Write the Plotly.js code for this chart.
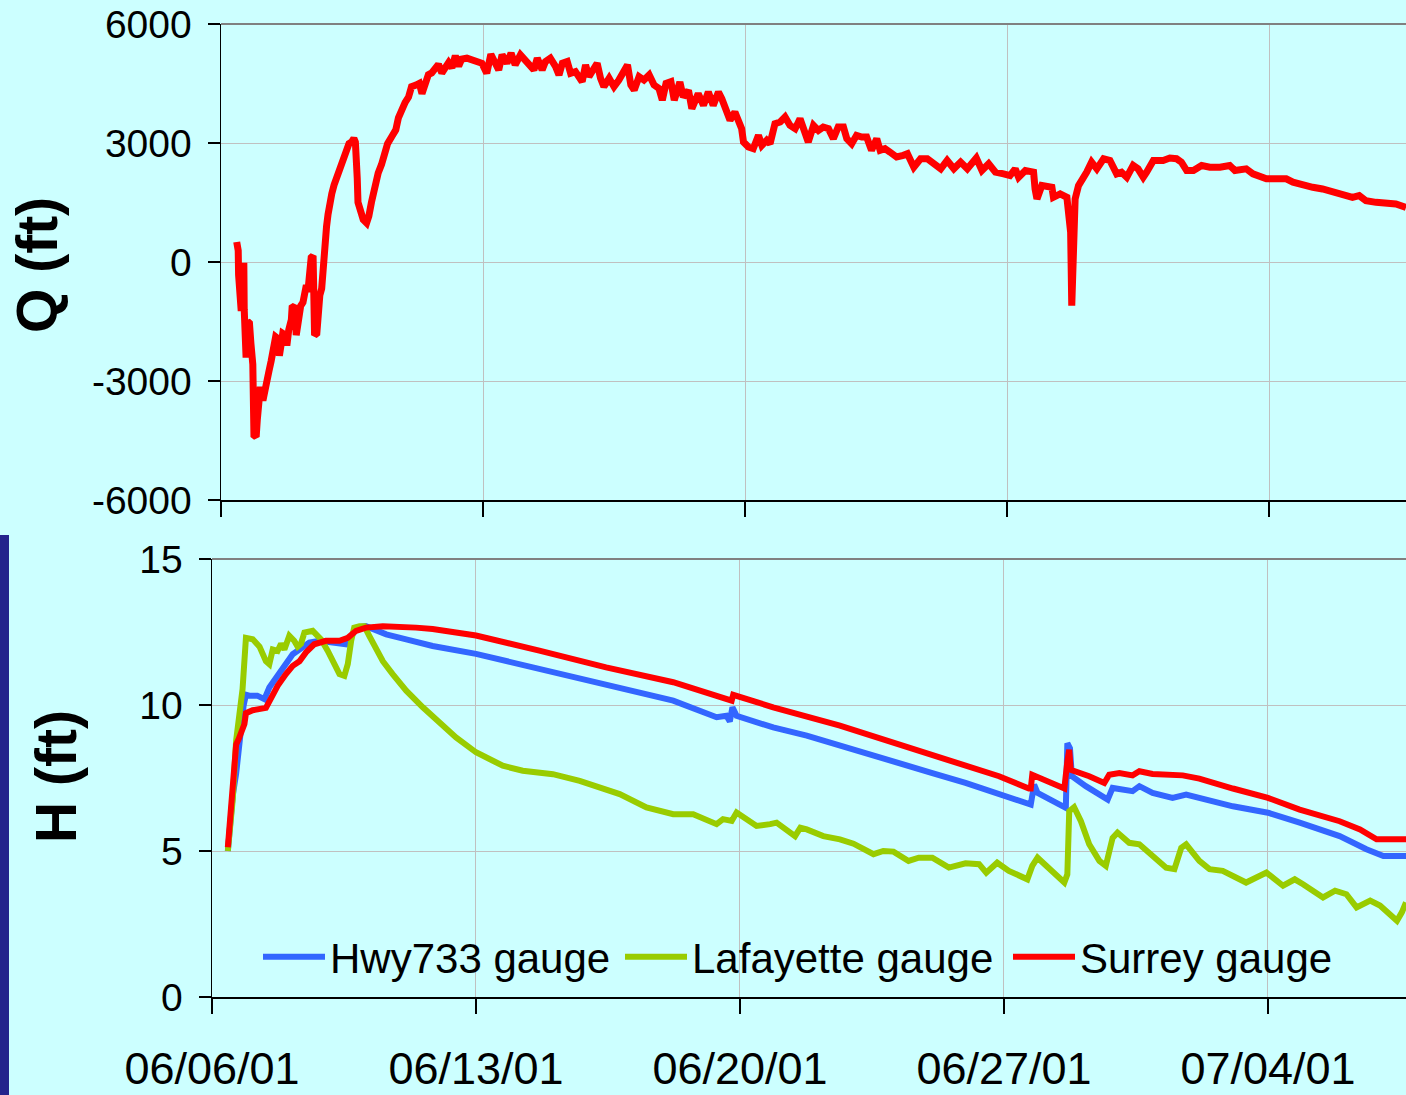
<!DOCTYPE html>
<html>
<head>
<meta charset="utf-8">
<script src="https://cdn.plot.ly/plotly-3.0.1.min.js"></script>
<style>
  html, body { margin: 0; padding: 0; background: #CCFFFF; }
  #chart { width: 1406px; height: 1095px; }
</style>
</head>
<body>
<div id="chart"></div>
<script>
// ---------- DATA (x = days since 06/06/01 00:00) ----------
const qDay = [0.42,0.46,0.47,0.49,0.51,0.54,0.56,0.59,0.61,0.62,0.63,0.67,0.71,0.76,0.80,0.85,0.88,0.94,0.97,1.01,1.05,1.12,1.16,1.21,1.28,1.34,1.40,1.46,1.52,1.56,1.61,1.65,1.72,1.76,1.81,1.88,1.90,1.97,2.01,2.06,2.13,2.19,2.23,2.28,2.32,2.37,2.41,2.46,2.48,2.50,2.56,2.59,2.64,2.69,2.73,2.77,2.82,2.86,2.90,2.96,3.02,3.10,3.19,3.26,3.35,3.42,3.49,3.55,3.59,3.62,3.64,3.66,3.71,3.80,3.89,3.95,4.02,4.11,4.20,4.29,4.38,4.45,4.56,4.67,4.74,4.83,4.92,5.01,5.09,5.21,5.30,5.37,5.45,5.54,5.63,5.72,5.81,5.90,5.99,6.08,6.17,6.26,6.35,6.43,6.57,6.70,6.84,6.97,7.10,7.21,7.33,7.42,7.51,7.64,7.75,7.86,8.00,8.13,8.27,8.36,8.45,8.58,8.67,8.80,8.94,9.03,9.12,9.25,9.34,9.47,9.65,9.74,9.83,9.96,10.05,10.14,10.23,10.37,10.50,10.63,10.72,10.86,10.95,11.04,11.17,11.30,11.44,11.57,11.70,11.79,11.89,12.02,12.11,12.26,12.35,12.49,12.58,12.75,12.89,13.02,13.15,13.29,13.38,13.51,13.60,13.73,13.82,13.91,13.96,14.09,14.22,14.36,14.45,14.58,14.67,14.80,14.94,15.07,15.20,15.34,15.47,15.60,15.69,15.83,15.96,16.09,16.23,16.36,16.49,16.63,16.72,16.85,16.98,17.12,17.25,17.38,17.52,17.61,17.74,17.87,18.05,18.23,18.34,18.51,18.69,18.87,19.05,19.23,19.40,19.58,19.76,19.94,20.18,20.33,20.51,20.69,20.91,21.08,21.22,21.31,21.49,21.71,21.75,21.80,21.93,22.06,22.20,22.24,22.42,22.60,22.64,22.70,22.73,22.78,22.82,22.91,23.04,23.13,23.26,23.40,23.58,23.75,23.93,24.06,24.20,24.37,24.50,24.64,24.73,24.91,25.17,25.35,25.53,25.66,25.80,25.98,26.20,26.42,26.69,26.95,27.09,27.39,27.57,27.75,27.93,28.20,28.46,28.64,28.90,29.17,29.43,29.70,29.97,30.23,30.41,30.59,30.86,31.21,31.39,31.66];
const qFlow = [504,287,-322,-843,-1235,-1235,-930,-235,-17,-1191,-2409,-2409,-1496,-1539,-2061,-2583,-4365,-4409,-3974,-3365,-3148,-3496,-3235,-2930,-2757,-2496,-2148,-1887,-1930,-2365,-2061,-1800,-1843,-2104,-1713,-1452,-1148,-1104,-1843,-1409,-1104,-1017,-670,-583,-757,-61,113,157,-843,-1843,-1800,-1191,-843,-670,-61,548,896,1200,1461,1722,1939,2157,2374,2548,2809,2983,3026,3113,3026,2722,2113,1504,1287,1070,983,1157,1504,1939,2244,2461,2809,2983,3157,3331,3635,3852,4026,4157,4418,4461,4505,4244,4505,4722,4765,4852,4983,4765,4939,5026,4896,5200,4939,5113,5138,5096,5053,5011,4757,5239,5011,4842,5222,5011,5265,4969,5222,5096,4969,4842,5138,4842,5053,5138,4926,4715,5011,5053,4757,4800,4546,4969,4673,4842,5011,4631,4419,4631,4419,4588,4757,4969,4462,4335,4673,4588,4715,4462,4377,4081,4504,4546,4081,4537,4159,4327,3865,4243,3949,4285,3949,4285,4117,3781,3571,3781,3529,3361,3025,2899,2857,3193,2941,3067,2983,3487,3529,3655,3445,3361,3613,3277,3025,3445,3319,3403,3361,3109,3403,3403,3109,2983,3193,3151,3151,2815,3109,2815,2857,2773,2647,2689,2729,2391,2603,2603,2476,2349,2560,2349,2518,2349,2620,2307,2476,2265,2222,2180,2349,2138,2307,2265,1842,1589,1927,1927,1884,1631,1715,1631,1166,744,-1099,744,1589,1927,2096,2265,2518,2349,2603,2560,2222,2265,2138,2434,2349,2138,2265,2560,2560,2620,2603,2518,2307,2307,2434,2391,2391,2434,2307,2349,2222,2180,2096,2096,2096,2011,1927,1884,1842,1758,1673,1631,1673,1546,1504,1504,1462,1377];

const hwyDay = [0.42,0.48,0.55,0.64,0.72,0.77,0.84,0.90,0.99,1.20,1.39,1.52,1.70,1.92,2.14,2.32,2.58,2.85,3.20,3.55,3.69,3.86,4.08,4.35,4.62,5.15,5.85,7.00,8.68,10.45,12.23,13.38,13.64,13.73,13.80,13.91,14.88,15.77,16.65,18.21,19.10,19.98,20.87,21.71,21.80,21.89,22.64,22.68,22.75,22.80,23.17,23.53,23.75,23.88,24.41,24.59,24.94,25.47,25.83,27.07,28.00,28.84,29.90,30.61,31.06,31.66];
const hwyH = [5.0,5.9,6.9,7.65,8.8,9.28,10.0,10.35,10.32,10.32,10.2,10.6,10.94,11.4,11.74,11.9,12.14,12.2,12.14,12.08,12.37,12.65,12.7,12.54,12.42,12.25,12.02,11.75,11.24,10.72,10.15,9.58,9.63,9.44,9.92,9.63,9.23,8.95,8.6,8.01,7.67,7.33,6.93,6.59,7.27,6.99,6.48,8.69,8.52,7.56,7.22,6.93,6.76,7.16,7.05,7.22,6.99,6.82,6.93,6.53,6.31,5.97,5.51,5.06,4.83,4.83];

const lafDay = [0.42,0.55,0.64,0.72,0.81,0.90,1.08,1.26,1.43,1.52,1.61,1.74,1.83,1.92,2.05,2.18,2.27,2.36,2.45,2.67,2.89,3.07,3.25,3.38,3.51,3.60,3.69,3.77,3.91,4.04,4.17,4.35,4.53,4.79,5.15,5.59,6.03,6.47,7.00,7.71,8.24,9.04,9.75,10.81,11.52,12.23,12.76,13.38,13.55,13.78,13.91,14.44,14.80,14.97,15.46,15.60,15.77,16.21,16.65,17.01,17.54,17.80,18.07,18.47,18.74,19.10,19.54,19.98,20.34,20.53,20.82,21.13,21.62,21.75,21.89,22.11,22.60,22.68,22.73,22.86,23.04,23.26,23.53,23.70,23.88,24.01,24.32,24.59,24.85,25.30,25.52,25.70,25.83,26.18,26.45,26.80,27.42,27.69,27.96,28.40,28.71,28.93,29.46,29.78,30.08,30.35,30.71,30.97,31.42,31.55,31.66];
const lafH = [5.0,6.77,8.78,9.47,10.54,12.3,12.25,12.0,11.5,11.4,11.9,11.85,12.1,11.9,12.37,12.2,12.0,12.1,12.48,12.54,12.25,11.85,11.34,11.06,11.0,11.4,12.2,12.65,12.7,12.7,12.37,11.9,11.5,11.06,10.49,9.92,9.41,8.89,8.38,7.92,7.75,7.63,7.4,6.95,6.49,6.26,6.26,5.92,6.09,6.03,6.32,5.86,5.92,5.97,5.51,5.8,5.74,5.51,5.4,5.25,4.89,5.0,4.98,4.66,4.77,4.77,4.43,4.58,4.55,4.26,4.6,4.32,4.03,4.49,4.77,4.49,3.92,4.2,6.36,6.5,6.02,5.23,4.66,4.49,5.45,5.63,5.28,5.23,4.94,4.43,4.38,5.11,5.23,4.66,4.38,4.32,3.92,4.09,4.26,3.81,4.03,3.86,3.41,3.64,3.52,3.07,3.3,3.13,2.61,2.9,3.24];

const surDay = [0.42,0.46,0.52,0.59,0.64,0.71,0.77,0.86,0.90,1.08,1.43,1.56,1.74,1.96,2.14,2.32,2.49,2.71,3.02,3.38,3.60,3.82,4.08,4.53,4.97,5.41,5.85,6.38,7.00,8.68,10.45,12.23,13.64,13.78,13.82,14.88,16.65,18.21,19.10,19.98,20.87,21.66,21.71,21.75,21.84,22.20,22.60,22.68,22.73,22.77,22.90,23.26,23.66,23.79,24.06,24.41,24.59,24.94,25.74,26.18,27.07,28.00,28.84,29.90,30.44,30.88,31.66];
const surH = [5.13,5.7,7.0,7.52,8.65,8.84,9.03,9.35,9.72,9.82,9.9,10.26,10.66,11.06,11.34,11.5,11.8,12.08,12.2,12.2,12.3,12.54,12.65,12.7,12.7,12.65,12.6,12.48,12.38,11.86,11.29,10.78,10.24,10.15,10.35,9.92,9.29,8.66,8.3,7.95,7.56,7.14,7.14,7.61,7.56,7.36,7.14,8.07,8.47,7.78,7.73,7.56,7.33,7.61,7.67,7.59,7.73,7.64,7.59,7.48,7.14,6.82,6.42,6.02,5.74,5.4,5.4];

const seriesNames = ['Hwy733 gauge', 'Lafayette gauge', 'Surrey gauge'];
const qTickVals = [-6000, -3000, 0, 3000, 6000];
const qTickText = ['-6000', '-3000', '0', '3000', '6000'];
const hTickVals = [0, 5, 10, 15];
const hTickText = ['0', '5', '10', '15'];

// ---------- helpers ----------
const DAY = 86400000;
const T0 = Date.UTC(2001, 5, 6);
const toTime = arr => arr.map(d => T0 + d * DAY);
const W = 1406, H = 1095;
const px = v => v / W;          // pixel x -> paper
const py = v => 1 - v / H;      // pixel y -> paper
const FONT = 'Liberation Sans, Arial, Helvetica, sans-serif';
const BG = '#CCFFFF';
const xEnd = T0 + 31.66 * DAY;

const traces = [
  { x: toTime(qDay), y: qFlow, xaxis: 'x', yaxis: 'y', mode: 'lines', showlegend: false,
    line: { color: '#FF0000', width: 7 }, hoverinfo: 'skip' },
  { x: toTime(hwyDay), y: hwyH, xaxis: 'x2', yaxis: 'y2', mode: 'lines', name: seriesNames[0],
    legend: 'legend', line: { color: '#3366FF', width: 6 } },
  { x: toTime(lafDay), y: lafH, xaxis: 'x2', yaxis: 'y2', mode: 'lines', name: seriesNames[1],
    legend: 'legend2', line: { color: '#99CC00', width: 6 } },
  { x: toTime(surDay), y: surH, xaxis: 'x2', yaxis: 'y2', mode: 'lines', name: seriesNames[2],
    legend: 'legend3', line: { color: '#FF0000', width: 6 } }
];

const commonX = {
  type: 'date', range: [T0, xEnd], tick0: T0, dtick: 7 * DAY,
  showgrid: true, gridcolor: '#C0C0C0', gridwidth: 1,
  showline: true, linecolor: '#000000', linewidth: 1.5,
  ticks: 'outside', ticklen: 15, tickcolor: '#000000', tickwidth: 1.5,
  zeroline: false, fixedrange: true
};
const commonY = {
  showgrid: true, gridcolor: '#C0C0C0', gridwidth: 1,
  showline: true, linecolor: '#000000', linewidth: 1.5,
  ticks: 'outside', ticklen: 12, tickcolor: '#000000', tickwidth: 1.5,
  zeroline: false, tickmode: 'array', fixedrange: true,
  tickfont: { family: FONT, size: 39, color: '#000000' }, ticklabelstandoff: 8
};

function legendAt(xPix) {
  return {
    orientation: 'h', x: px(xPix), xanchor: 'left', y: py(957), yanchor: 'middle',
    xref: 'paper', yref: 'paper',
    bgcolor: 'rgba(0,0,0,0)', borderwidth: 0,
    font: { family: FONT, size: 42, color: '#000000' },
    itemwidth: 62
  };
}

const layout = {
  width: W, height: H,
  margin: { l: 0, r: 0, t: 0, b: 0, pad: 0 },
  paper_bgcolor: BG, plot_bgcolor: BG,
  font: { family: FONT, color: '#000000' },
  xaxis: Object.assign({}, commonX, { domain: [px(221), 1], anchor: 'y', showticklabels: false }),
  yaxis: Object.assign({}, commonY, { domain: [py(500), py(24)], anchor: 'x', range: [-6000, 6000],
    tickvals: qTickVals, ticktext: qTickText }),
  xaxis2: Object.assign({}, commonX, { domain: [px(212), 1], anchor: 'y2', showticklabels: true,
    tickformat: '%m/%d/%y', tickfont: { family: FONT, size: 45, color: '#000000' }, ticklabelstandoff: 16 }),
  yaxis2: Object.assign({}, commonY, { domain: [py(997), py(559)], anchor: 'x2', range: [0, 15],
    tickvals: hTickVals, ticktext: hTickText }),
  showlegend: true,
  legend: legendAt(258),
  legend2: legendAt(620),
  legend3: legendAt(1008),
  shapes: [
    { type: 'rect', xref: 'paper', yref: 'paper', x0: 0, x1: px(9), y0: 0, y1: py(535),
      fillcolor: '#24248C', line: { width: 0 } },
    { type: 'line', xref: 'paper', yref: 'paper', x0: px(221), x1: 1, y0: py(24), y1: py(24),
      line: { color: '#808080', width: 2 } },
    { type: 'line', xref: 'paper', yref: 'paper', x0: px(212), x1: 1, y0: py(559), y1: py(559),
      line: { color: '#808080', width: 2 } },
    { type: 'rect', xref: 'paper', yref: 'paper', x0: px(255), x1: px(1337), y0: py(995), y1: py(911),
      fillcolor: BG, line: { width: 0 }, layer: 'between' }
  ],
  annotations: [
    { text: '<b>Q (ft)</b>', xref: 'paper', yref: 'paper', x: px(37), y: py(265),
      xanchor: 'center', yanchor: 'middle', textangle: -90, showarrow: false,
      font: { family: FONT, size: 57, color: '#000000' } },
    { text: '<b>H (ft)</b>', xref: 'paper', yref: 'paper', x: px(56), y: py(777),
      xanchor: 'center', yanchor: 'middle', textangle: -90, showarrow: false,
      font: { family: FONT, size: 57, color: '#000000' } }
  ]
};

Plotly.newPlot('chart', traces, layout, { displayModeBar: false, staticPlot: true });
</script>
</body>
</html>
